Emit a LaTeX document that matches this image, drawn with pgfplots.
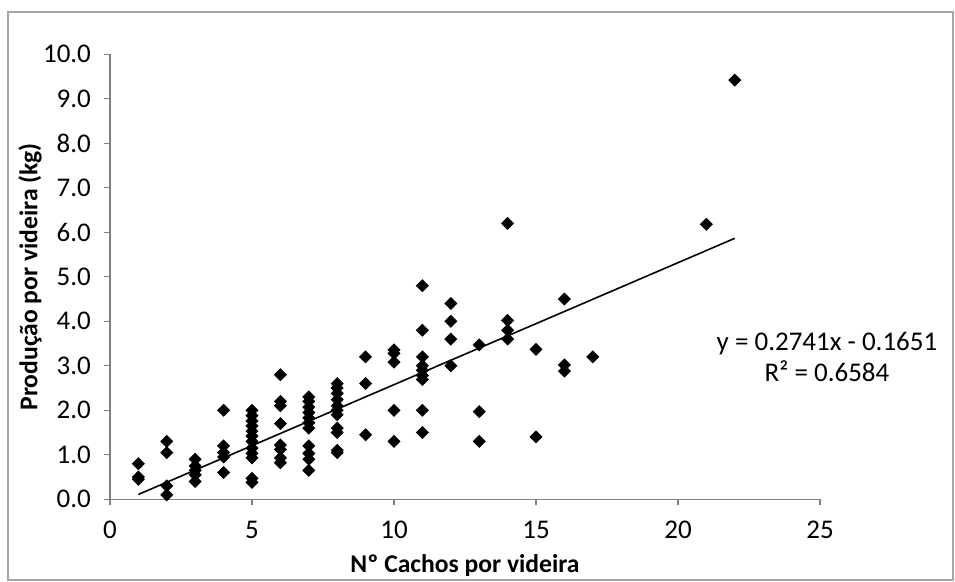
\documentclass[border=0pt]{standalone}
\usepackage{pgfplots}
\pgfplotsset{compat=1.18}
\usepackage{fontspec}
\setmainfont{Carlito}
\begin{document}
\begin{tikzpicture}
\useasboundingbox (0,0) rectangle (477.5pt,291pt);
\draw[gray!70, line width=0.6pt] (4pt,1pt) rectangle (476.5pt,285pt);
\begin{axis}[
  at={(55pt,41.35pt)}, anchor=south west,
  scale only axis, width=355pt, height=222.5pt,
  xmin=0, xmax=25, ymin=0, ymax=10,
  axis lines*=left,
  axis line style={gray, line width=0.6pt, -},
  tick style={gray, line width=0.6pt},
  tick align=outside, major tick length=3pt,
  xtick={0,5,...,25}, ytick={0,1,...,10},
  /pgf/number format/assume math mode=true,
  yticklabel style={/pgf/number format/fixed, /pgf/number format/fixed zerofill, /pgf/number format/precision=1},
  tick label style={font=\fontsize{13.5}{15}\selectfont},
  xticklabel style={yshift=-4.5pt},
  yticklabel style={xshift=-3pt},
  xlabel={Nº Cachos por videira},
  ylabel={Produção por videira (kg)},
  label style={font=\fontsize{12.8}{14}\selectfont\bfseries},
  xlabel style={at={(axis description cs:0.5,0)}, anchor=center, yshift=-33pt},
  ylabel style={at={(axis description cs:-0.1127,0.5)}, anchor=center},
  clip=false,
]
\addplot[only marks, mark=square*, mark size=2.1pt, black,
  every mark/.append style={rotate=45}] table {
x y
1 0.8
1 0.5
1 0.45
2 1.3
2 1.05
2 0.3
2 0.1
3 0.9
3 0.75
3 0.65
3 0.55
3 0.4
4 2.0
4 1.2
4 1.05
4 0.95
4 0.6
5 2.0
5 1.88
5 1.76
5 1.65
5 1.53
5 1.42
5 1.3
5 1.15
5 1.03
5 0.93
5 0.47
5 0.38
6 2.8
6 2.2
6 2.1
6 1.7
6 1.22
6 1.12
6 0.93
6 0.82
7 2.3
7 2.2
7 2.07
7 1.95
7 1.83
7 1.72
7 1.6
7 1.2
7 1.03
7 0.9
7 0.65
8 2.6
8 2.5
8 2.38
8 2.24
8 2.1
8 2.0
8 1.9
8 1.6
8 1.5
8 1.1
8 1.05
9 3.2
9 2.6
9 1.45
10 3.36
10 3.28
10 3.08
10 2.0
10 1.3
11 4.8
11 3.8
11 3.2
11 3.0
11 2.9
11 2.78
11 2.69
11 2.0
11 1.5
12 4.4
12 4.0
12 3.6
12 3.0
13 3.47
13 1.97
13 1.3
14 6.2
14 4.02
14 3.8
14 3.6
15 3.37
15 1.4
16 4.5
16 3.02
16 2.88
17 3.2
21 6.18
22 9.42
};
\addplot[black, line width=0.8pt] coordinates {(1,0.109) (22,5.8651)};
\end{axis}
\node[align=center, font=\fontsize{13.5}{15.5}\selectfont] at (413.5pt,112.5pt)
  {y = 0.2741x - 0.1651\\R² = 0.6584};
\end{tikzpicture}
\end{document}
